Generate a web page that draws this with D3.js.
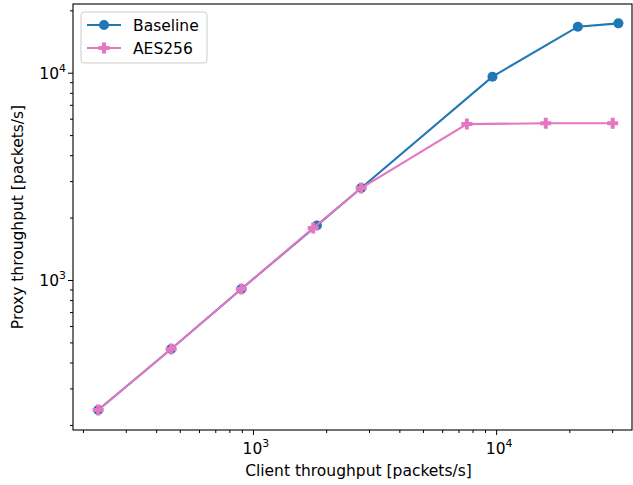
<!DOCTYPE html>
<html>
<head>
<meta charset="utf-8">
<script src="https://cdn.jsdelivr.net/npm/d3@7"></script>
<style>
  body { margin: 0; background: #fff; }
  text { font-family: "DejaVu Sans", sans-serif; }
</style>
</head>
<body>
<div id="chart"></div>
<script>
// data (packets/s)
const seriesNames = ["Baseline", "AES256"];
const baselineX = [231, 461, 896, 1832, 2786, 9660, 21680, 31830];
const baselineY = [236, 465, 905, 1832, 2778, 9570, 16670, 17300];
const aesX = [231, 461, 896, 1770, 2786, 7580, 16000, 30150];
const aesY = [236, 465, 905, 1782, 2778, 5650, 5700, 5700];
const majorTicks = [1e3, 1e4];

const width = 633, height = 485;
const margin = {top: 4, right: 1, bottom: 55, left: 73};
const fs = 15.5;

const svg = d3.select("#chart").append("svg")
  .attr("width", width).attr("height", height);

const x = d3.scaleLog().domain([182, 36200]).range([margin.left, width - margin.right]);
const y = d3.scaleLog().domain([189, 21450]).range([height - margin.bottom, margin.top]);

const minorX = [];
[100, 1000, 10000].forEach(d => { for (let k = 2; k <= 9; k++) minorX.push(d * k); });
const minorY = minorX.slice();

function drawTickLabels(g, vals, horizontal) {
  vals.forEach(v => {
    const t = g.append("text").attr("font-size", fs).attr("fill", "#000");
    const exp = Math.round(Math.log10(v));
    if (horizontal) {
      t.attr("x", x(v) + 3).attr("y", height - margin.bottom + 24).attr("text-anchor", "middle");
    } else {
      t.attr("x", margin.left - 7).attr("y", y(v) + 6).attr("text-anchor", "end");
    }
    t.append("tspan").text("10");
    t.append("tspan").attr("font-size", fs * 0.7).attr("dy", -7).text(exp);
  });
}

// axes
const xAxis = svg.append("g").attr("transform", `translate(0,${height - margin.bottom})`);
xAxis.call(d3.axisBottom(x).tickValues(majorTicks).tickSize(5).tickFormat(""));
xAxis.append("g").call(d3.axisBottom(x).tickValues(minorX.filter(v => v > 182 && v < 36200)).tickSize(3).tickFormat(""));
const yAxis = svg.append("g").attr("transform", `translate(${margin.left},0)`);
yAxis.call(d3.axisLeft(y).tickValues(majorTicks).tickSize(5).tickFormat(""));
yAxis.append("g").call(d3.axisLeft(y).tickValues(minorY.filter(v => v > 189 && v < 21450)).tickSize(3).tickFormat(""));
svg.selectAll(".domain").remove();
svg.selectAll(".tick line").attr("stroke", "#000").attr("stroke-width", 1);

drawTickLabels(svg.append("g"), majorTicks, true);
drawTickLabels(svg.append("g"), majorTicks, false);

// frame
svg.append("rect")
  .attr("x", margin.left).attr("y", margin.top)
  .attr("width", width - margin.left - margin.right)
  .attr("height", height - margin.top - margin.bottom)
  .attr("fill", "none").attr("stroke", "#000").attr("stroke-width", 1.1);

// labels
svg.append("text").attr("x", (margin.left + width - margin.right) / 2 + 6).attr("y", 476)
  .attr("text-anchor", "middle").attr("font-size", fs).text("Client throughput [packets/s]");
svg.append("text").attr("transform", `translate(23,${(margin.top + height - margin.bottom) / 2}) rotate(-90)`)
  .attr("text-anchor", "middle").attr("font-size", fs).text("Proxy throughput [packets/s]");

const colors = ["#1f77b4", "#e377c2"];
const plusPath = s => {
  const a = s / 2, b = s / 5.5;
  return `M${-b},${-a}H${b}V${-b}H${a}V${b}H${b}V${a}H${-b}V${b}H${-a}V${-b}H${-b}Z`;
};

const series = [
  {name: seriesNames[0], xs: baselineX, ys: baselineY, color: colors[0], marker: "circle"},
  {name: seriesNames[1], xs: aesX, ys: aesY, color: colors[1], marker: "plus"}
];

const line = d3.line().x(d => x(d[0])).y(d => y(d[1]));
const plot = svg.append("g");
series.forEach(s => {
  const pts = s.xs.map((v, i) => [v, s.ys[i]]);
  plot.append("path").datum(pts).attr("d", line)
    .attr("fill", "none").attr("stroke", s.color).attr("stroke-width", 2.1);
  pts.forEach(p => {
    if (s.marker === "circle") {
      plot.append("circle").attr("cx", x(p[0])).attr("cy", y(p[1])).attr("r", 5).attr("fill", s.color);
    } else {
      plot.append("path").attr("d", plusPath(11)).attr("transform", `translate(${x(p[0])},${y(p[1])})`).attr("fill", s.color);
    }
  });
});

// legend
const lg = svg.append("g").attr("transform", "translate(81,12)");
lg.append("rect").attr("width", 126).attr("height", 51).attr("rx", 3)
  .attr("fill", "#fff").attr("fill-opacity", 0.8).attr("stroke", "#ccc").attr("stroke-width", 1);
series.forEach((s, i) => {
  const yy = 13 + i * 23;
  lg.append("line").attr("x1", 6).attr("x2", 40).attr("y1", yy).attr("y2", yy)
    .attr("stroke", s.color).attr("stroke-width", 2.1);
  if (s.marker === "circle") {
    lg.append("circle").attr("cx", 23).attr("cy", yy).attr("r", 5).attr("fill", s.color);
  } else {
    lg.append("path").attr("d", plusPath(11)).attr("transform", `translate(23,${yy})`).attr("fill", s.color);
  }
  lg.append("text").attr("x", 52).attr("y", yy + 5.5).attr("font-size", fs).text(s.name);
});
</script>
</body>
</html>
